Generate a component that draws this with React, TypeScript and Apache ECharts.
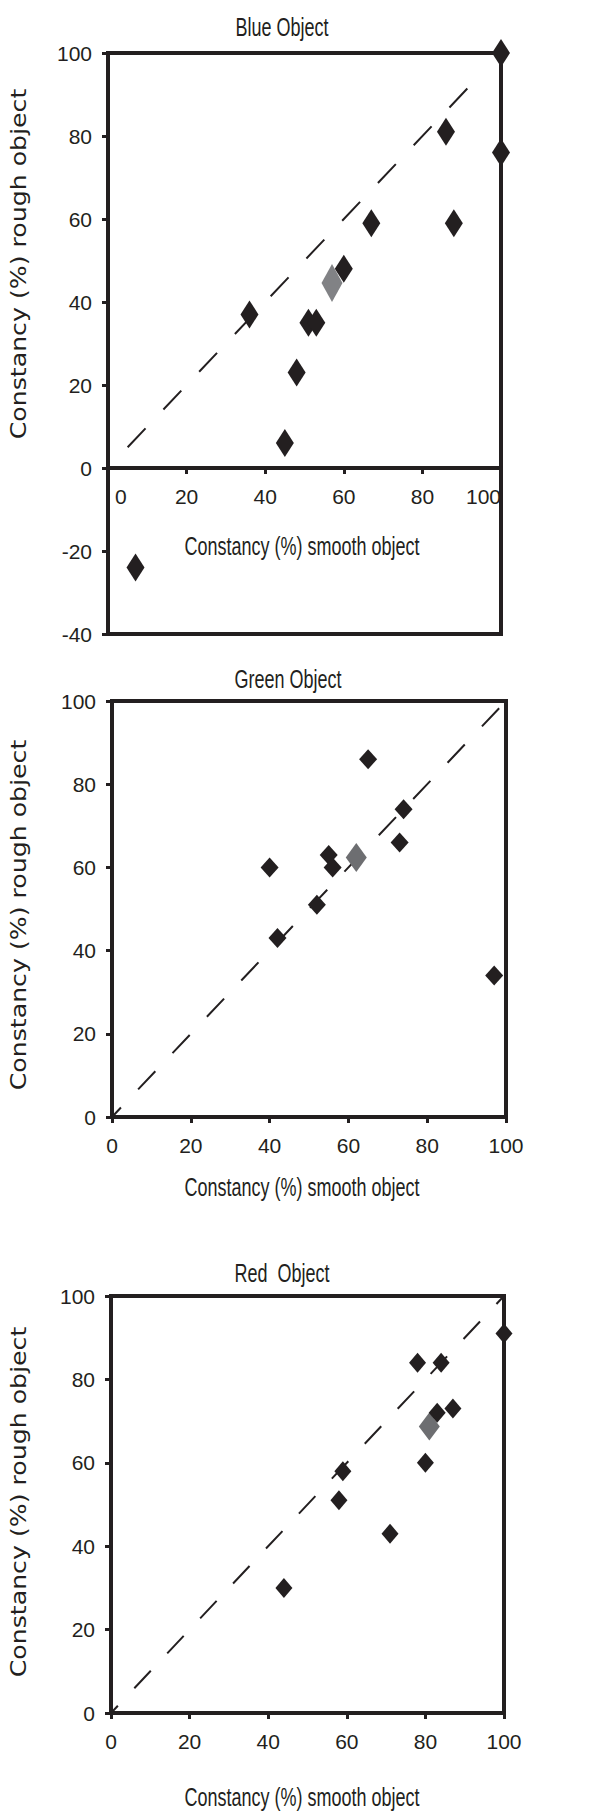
import React, { useEffect, useRef } from "react";
import * as echarts from "echarts";

// ---------- data ----------
const axisX = { min: 0, max: 100, interval: 20 };
const blueYUpper = { min: 0, max: 100, interval: 20 };
const blueYLower = { min: -40, max: 0, interval: 20 };
const greenYRange = { min: 0, max: 100, interval: 20 };
const redYRange = { min: 0, max: 100, interval: 20 };

const titles = ["Blue Object", "Green Object", "Red  Object"];
const xAxisName = "Constancy (%) smooth object";
const yAxisName = "Constancy (%) rough object";

const blueBlack = [
  [100, 100], [100, 76], [86, 81], [88, 59], [67, 59], [60, 48],
  [36, 37], [51, 35], [53, 35], [48, 23], [45, 6], [7, -24],
];
const blueGray = [[57, 44.6]];
const blueDiag = [[5, 5], [92, 92]];

const greenBlack = [
  [65, 86], [74, 74], [73, 66], [40, 60], [55, 63], [56, 60],
  [52, 51], [42, 43], [97, 34],
];
const greenGray = [[62, 62.4]];
const greenDiag = [[0, 0], [100, 100]];

const redBlack = [
  [100, 91], [78, 84], [84, 84], [83, 72], [87, 73], [80, 60],
  [59, 58], [58, 51], [71, 43], [44, 30],
];
const redGray = [[81, 68.7]];
const redDiag = [[0, 0], [100, 100]];

// ---------- styling / layout ----------
const INK = "#231f20";
const SANS = "'Liberation Sans', Arial, sans-serif";
const WIDE = "'DejaVu Sans', Verdana, sans-serif";
const TICK_FONT = 21;

function xAxisFor(gridIndex: number, show: boolean, minAlign = "center", maxAlign = "center", padZero = false) {
  return {
    gridIndex,
    type: "value",
    show,
    min: axisX.min,
    max: axisX.max,
    interval: axisX.interval,
    axisLine: { show: true, onZero: false, lineStyle: { color: INK, width: 4 } },
    axisTick: { show: true, length: 6, lineStyle: { color: INK, width: 3 } },
    axisLabel: {
      color: INK, fontFamily: SANS, fontSize: TICK_FONT, margin: 18,
      alignMinLabel: minAlign, alignMaxLabel: maxAlign,
      formatter: padZero ? (v: number) => (v === 0 ? "{z|0}" : String(v)) : undefined,
      rich: padZero
        ? { z: { padding: [0, 0, 0, 7], fontFamily: SANS, fontSize: TICK_FONT, color: INK } }
        : undefined,
    },
    splitLine: { show: false },
  };
}

function yAxisFor(gridIndex: number, range: any, showMax = true) {
  return {
    gridIndex,
    type: "value",
    min: range.min,
    max: range.max,
    interval: range.interval,
    axisLine: { show: true, onZero: false, lineStyle: { color: INK, width: 4 } },
    axisTick: { show: true, length: 6, lineStyle: { color: INK, width: 3 } },
    axisLabel: {
      color: INK, fontFamily: SANS, fontSize: TICK_FONT, margin: 16,
      showMaxLabel: showMax,
    },
    splitLine: { show: false },
  };
}

function gridBox(box: any) {
  return {
    ...box,
    show: true,
    borderColor: INK,
    borderWidth: 4,
    backgroundColor: "transparent",
    containLabel: false,
  };
}

function diagSeries(idx: number, data: number[][], dash: number[], offset: number) {
  return {
    type: "line",
    xAxisIndex: idx,
    yAxisIndex: idx,
    data,
    showSymbol: false,
    symbol: "none",
    lineStyle: { color: INK, width: 2, type: dash, dashOffset: offset },
    z: 1,
    silent: true,
  };
}

function diamonds(idx: number, data: number[][], size: number[], color: string, z: number) {
  return {
    type: "scatter",
    xAxisIndex: idx,
    yAxisIndex: idx,
    data,
    symbol: "diamond",
    symbolSize: size,
    itemStyle: { color, opacity: 1 },
    clip: false,
    z,
  };
}

function label(text: string, x: number, y: number, size: number, scaleX: number) {
  return {
    type: "text",
    x,
    y,
    scaleX,
    style: {
      text, fill: INK, fontFamily: SANS, fontSize: size,
      align: "center", verticalAlign: "middle",
    },
  };
}

function yName(x: number, y: number) {
  return {
    type: "text",
    x,
    y,
    rotation: Math.PI / 2,
    scaleX: 1.2,
    style: {
      text: yAxisName, fill: INK, fontFamily: WIDE, fontSize: 21,
      align: "center", verticalAlign: "middle",
    },
  };
}

function buildOption() {
  const grid = [
    gridBox({ left: 108, top: 53, width: 393, height: 415 }), // blue, y >= 0
    gridBox({ left: 108, top: 468, width: 393, height: 166 }), // blue, y < 0
    gridBox({ left: 112, top: 701, width: 394, height: 416 }), // green
    gridBox({ left: 111, top: 1296, width: 393, height: 417 }), // red
  ];
  const xAxis = [
    xAxisFor(0, true, "left", "right", true),
    xAxisFor(1, false),
    xAxisFor(2, true),
    xAxisFor(3, true),
  ];
  const yAxis = [
    yAxisFor(0, blueYUpper),
    yAxisFor(1, blueYLower, false),
    yAxisFor(2, greenYRange),
    yAxisFor(3, redYRange),
  ];
  const series = [
    diagSeries(0, blueDiag, [26, 26], 0),
    diamonds(0, blueGray, [21, 38], "#818285", 2),
    diamonds(0, blueBlack.filter((d) => d[1] >= 0), [18, 28], INK, 3),
    diamonds(1, blueBlack.filter((d) => d[1] < 0), [18, 28], INK, 3),

    diagSeries(2, greenDiag, [25, 25], 12),
    diamonds(2, greenGray, [21, 29], "#6d6e71", 2),
    diamonds(2, greenBlack, [18, 20], INK, 3),

    diagSeries(3, redDiag, [24, 24], 14),
    diamonds(3, redGray, [21, 28], "#6d6e71", 2),
    diamonds(3, redBlack, [17, 20], INK, 3),
  ];
  const graphic = [
    label(titles[0], 282, 27, 25, 0.72),
    label(xAxisName, 302, 546, 25, 0.72),
    yName(18, 264),

    label(titles[1], 288, 679, 25, 0.72),
    label(xAxisName, 302, 1187, 25, 0.72),
    yName(18, 915),

    label(titles[2], 282, 1273, 25, 0.72),
    label(xAxisName, 302, 1797, 25, 0.72),
    yName(18, 1502),
  ];

  return {
    animation: false,
    backgroundColor: "#ffffff",
    grid,
    xAxis,
    yAxis,
    series,
    graphic,
  };
}

export default function App() {
  const ref = useRef<HTMLDivElement | null>(null);
  useEffect(() => {
    if (!ref.current) return;
    const chart = echarts.init(ref.current, undefined, { renderer: "svg" });
    chart.setOption(buildOption() as any);
    return () => chart.dispose();
  }, []);
  return (
    <div
      ref={ref}
      style={{ position: "absolute", left: 0, top: 0, width: 608, height: 1811, background: "#fff" }}
    />
  );
}
